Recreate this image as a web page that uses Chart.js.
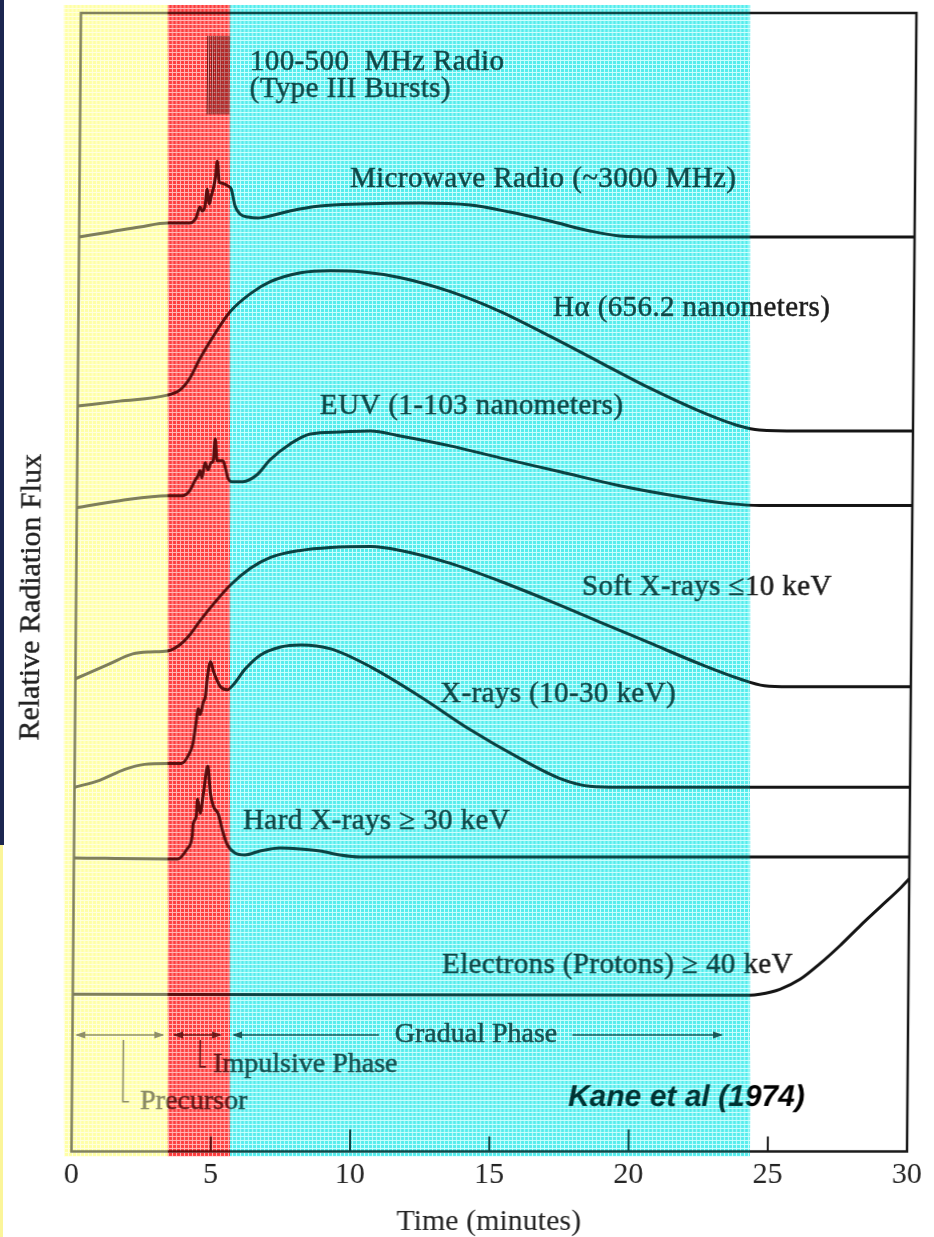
<!DOCTYPE html>
<html>
<head>
<meta charset="utf-8">
<script src="https://cdn.jsdelivr.net/npm/chart.js@4.4.1/dist/chart.umd.min.js"></script>
<style>
  html, body { margin: 0; padding: 0; background: #fff; }
  body { width: 934px; height: 1237px; position: relative; overflow: hidden; }
  #edge-top { position: absolute; left: 0; top: 0; width: 4px; height: 845px; background: #1c2650; }
  #edge-bottom { position: absolute; left: 0; top: 845px; width: 3px; height: 392px; background: #fbf59a; }
  #chart { position: absolute; left: 0; top: 0; }
</style>
</head>
<body>
<div id="edge-top"></div><div id="edge-bottom"></div>
<canvas id="chart" width="934" height="1237"></canvas>
<script>
// Solar flare light curves, stacked: [time in minutes, relative flux + trace offset]
const microwave = [
  [0, 91.9], [1.10, 92.4], [2.18, 92.9], [3.18, 93.3], [3.97, 93.3], [4.19, 93.8], [4.33, 94.9],
  [4.41, 94.5], [4.51, 95.0], [4.59, 96.7], [4.66, 95.2], [4.74, 96.1], [4.80, 96.7], [4.88, 97.9],
  [4.94, 99.5], [5.02, 97.4], [5.12, 97.3], [5.34, 97.0], [5.45, 96.7], [5.59, 95.0], [5.77, 94.2],
  [6.06, 93.9], [6.42, 93.8], [6.85, 94.0], [7.56, 94.5], [8.64, 95.0], [10.08, 95.2], [12.23, 95.3],
  [14.03, 95.1], [15.46, 94.4], [16.90, 93.5], [18.34, 92.5], [19.41, 92.0], [20.85, 91.9], [30, 91.9]
];
const halpha = [
  [0, 74.9], [1.50, 75.4], [3.22, 76.0], [3.66, 76.5], [4.02, 77.7], [4.38, 79.7], [4.91, 82.2],
  [5.45, 84.4], [6.17, 86.2], [6.88, 87.4], [7.97, 88.3], [9.04, 88.5], [10.12, 88.4], [11.56, 87.8],
  [13.35, 86.4], [15.15, 84.4], [16.95, 81.9], [18.74, 79.3], [20.54, 76.7], [22.33, 74.4],
  [23.77, 72.9], [24.48, 72.5], [25.92, 72.4], [30, 72.4]
];
const euv = [
  [0, 64.7], [1.54, 65.4], [3.26, 65.9], [3.80, 65.9], [4.05, 66.4], [4.23, 67.4], [4.34, 67.9],
  [4.41, 68.4], [4.48, 67.7], [4.59, 69.2], [4.70, 68.5], [4.80, 69.2], [4.88, 69.4], [4.95, 71.6],
  [5.02, 69.4], [5.23, 69.4], [5.34, 68.5], [5.41, 67.7], [5.56, 67.3], [5.95, 67.3], [6.46, 68.0],
  [6.92, 69.5], [7.64, 71.1], [8.36, 72.1], [9.44, 72.3], [10.51, 72.4], [11.59, 71.9], [13.39, 70.9],
  [15.18, 69.7], [17.34, 68.3], [19.49, 66.9], [21.65, 65.8], [23.44, 65.1], [24.52, 64.9], [30, 64.9]
];
const softXray = [
  [0, 47.5], [1.22, 49.0], [2.05, 50.0], [2.66, 50.2], [3.30, 50.3], [3.73, 50.9], [4.09, 51.9],
  [4.45, 53.3], [4.99, 55.2], [5.53, 56.9], [6.25, 58.6], [6.97, 59.7], [8.04, 60.4], [9.12, 60.7],
  [10.56, 60.8], [11.63, 60.4], [13.43, 59.1], [15.22, 57.3], [17.02, 55.3], [18.81, 53.2],
  [20.61, 51.1], [22.41, 49.0], [23.84, 47.5], [24.74, 46.8], [25.64, 46.7], [30, 46.7]
];
const xray = [
  [0, 36.6], [0.90, 37.3], [1.80, 38.4], [2.51, 38.9], [3.34, 39.0], [3.84, 39.0], [4.06, 39.7],
  [4.24, 41.0], [4.34, 43.0], [4.42, 44.5], [4.49, 43.9], [4.60, 45.2], [4.67, 45.7], [4.74, 47.7],
  [4.85, 49.2], [4.96, 48.2], [5.06, 47.5], [5.21, 46.7], [5.46, 46.4], [5.67, 46.9], [6.10, 48.5],
  [6.64, 49.9], [7.36, 50.7], [8.08, 50.9], [9.16, 50.5], [10.59, 48.7], [12.39, 45.7], [14.18, 42.4],
  [15.98, 39.5], [17.41, 37.5], [18.49, 36.7], [19.57, 36.6], [30, 36.6]
];
const hardXray = [
  [0, 29.5], [3.38, 29.4], [3.73, 29.4], [4.06, 30.4], [4.24, 31.7], [4.27, 32.9], [4.38, 33.7],
  [4.42, 35.4], [4.52, 34.0], [4.63, 36.0], [4.78, 38.7], [4.88, 36.0], [4.99, 34.7], [5.17, 33.9],
  [5.31, 32.4], [5.49, 30.9], [5.78, 30.0], [6.14, 29.8], [6.68, 30.2], [7.40, 30.5], [8.11, 30.4],
  [8.83, 30.2], [9.55, 29.8], [10.27, 29.6], [30, 29.6]
];
const electrons = [
  [0, 15.8], [24.31, 15.7], [24.67, 15.8], [25.39, 16.3], [26.11, 17.3], [26.83, 18.9],
  [27.54, 20.7], [28.26, 22.7], [28.98, 24.6], [29.70, 26.5], [30, 27.4]
];
// type III radio bursts: times of the individual bursts and the band they span
const burstTimes = [4.56, 4.63, 4.70, 4.77, 4.84, 4.91, 4.98, 5.05, 5.12, 5.19, 5.26, 5.33];
const burstSpan = [104.2, 112.1];

const timeTicks = [0, 5, 10, 15, 20, 25, 30];

// flare phases (minutes)
const phases = [
  { name: 'precursor', from: -0.27, to: 3.46 },
  { name: 'impulsive', from: 3.46, to: 5.69 },
  { name: 'gradual', from: 5.69, to: 24.36 }
];

// trace captions, anchored at their left edge
const captions = [
  { text: '100-500  MHz Radio', at: [6.08, 109.4] },
  { text: '(Type III Bursts)', at: [6.08, 106.7] },
  { text: 'Microwave Radio (~3000 MHz)', at: [9.71, 97.7] },
  { text: 'H\u03b1 (656.2 nanometers)', at: [17.04, 84.7] },
  { text: 'EUV (1-103 nanometers)', at: [8.70, 74.9] },
  { text: 'Soft X-rays \u226410 keV', at: [18.16, 56.7] },
  { text: 'X-rays (10-30 keV)', at: [13.10, 45.9] },
  { text: 'Hard X-rays \u2265 30 keV', at: [6.06, 33.2] },
  { text: 'Electrons (Protons) \u2265 40 keV', at: [13.25, 18.7] }
];

const serif = '"Liberation Serif", "Times New Roman", serif';
const shear = 9.5 / 1144; // the scanned frame leans right towards the top

const traceSets = [microwave, halpha, euv, softXray, xray, hardXray, electrons].map(pts => ({
  data: pts.map(([t, f]) => ({ x: t, y: f })),
  borderColor: '#141414',
  borderWidth: 3,
  pointRadius: 0,
  cubicInterpolationMode: 'monotone',
  borderCapStyle: 'round',
  borderJoinStyle: 'round',
  fill: false
}));

const burstSet = {
  data: burstTimes.flatMap(t => [{ x: t, y: burstSpan[0] }, { x: t, y: burstSpan[1] }, { x: t, y: null }]),
  borderColor: '#333',
  borderWidth: 1,
  pointRadius: 0,
  tension: 0,
  spanGaps: false,
  fill: false
};

const arrowHead = (ctx, x, y, dir) => {
  ctx.beginPath();
  ctx.moveTo(x, y);
  ctx.lineTo(x - dir * 10, y - 3.5);
  ctx.lineTo(x - dir * 10, y + 3.5);
  ctx.closePath();
  ctx.fill();
};

// scanned type: fill plus a hairline stroke so the letters read a little heavier
const inkText = (ctx, text, x, y) => {
  ctx.fillText(text, x, y);
  ctx.strokeText(text, x, y);
};

const framePlugin = {
  id: 'frame',
  beforeDatasetsDraw(chart) {
    const { ctx, chartArea: a, scales: { x } } = chart;
    ctx.save();
    ctx.strokeStyle = '#1a1a1a';
    ctx.lineWidth = 2.5;
    ctx.strokeRect(a.left, a.top, a.right - a.left, a.bottom - a.top);
    ctx.lineWidth = 2;
    timeTicks.forEach(v => {
      if (v <= x.min || v >= x.max) return;
      const p = x.getPixelForValue(v);
      const len = v % 10 === 0 ? 22 : 15;
      ctx.beginPath();
      ctx.moveTo(p, a.bottom);
      ctx.lineTo(p, a.bottom - len);
      ctx.stroke();
    });

    // vertical axis title, a little below the middle of the frame
    ctx.save();
    ctx.translate(a.left - 44, (a.top + a.bottom) / 2 + 15);
    ctx.rotate(-Math.PI / 2);
    ctx.font = '30px ' + serif;
    ctx.fillStyle = '#222';
    ctx.strokeStyle = '#222';
    ctx.lineWidth = 0.4;
    ctx.textAlign = 'center';
    ctx.textBaseline = 'middle';
    inkText(ctx, 'Relative Radiation Flux', 0, 0);
    ctx.restore();
    ctx.restore();
  }
};

const notesPlugin = {
  id: 'notes',
  afterDatasetsDraw(chart) {
    const { ctx, scales: { x, y } } = chart;
    const X = t => x.getPixelForValue(t);
    const Y = v => y.getPixelForValue(v);
    ctx.save();
    ctx.fillStyle = '#1c1c1c';
    ctx.strokeStyle = '#1c1c1c';
    ctx.lineWidth = 0.5;
    ctx.font = '29px ' + serif;
    ctx.letterSpacing = '0.4px';
    ctx.textBaseline = 'middle';
    ctx.textAlign = 'left';
    captions.forEach(c => inkText(ctx, c.text, X(c.at[0]), Y(c.at[1])));

    // phase arrows along the bottom of the plot
    const ay = Y(11.7);
    ctx.strokeStyle = '#333';
    ctx.fillStyle = '#333';
    ctx.lineWidth = 1.6;
    const seg = (t0, t1) => {
      ctx.beginPath();
      ctx.moveTo(X(t0), ay);
      ctx.lineTo(X(t1), ay);
      ctx.stroke();
    };
    seg(0.15, 3.25); arrowHead(ctx, X(0.1), ay, -1); arrowHead(ctx, X(3.3), ay, 1);
    seg(3.65, 5.3); arrowHead(ctx, X(3.61), ay, -1); arrowHead(ctx, X(5.37), ay, 1);
    seg(5.8, 11.0); seg(17.95, 23.3); arrowHead(ctx, X(5.73), ay, -1); arrowHead(ctx, X(23.36), ay, 1);

    // bracket pointers to the two short phases
    const bracket = (t, v0, v1, t1) => {
      ctx.beginPath();
      ctx.moveTo(X(t), Y(v0));
      ctx.lineTo(X(t), Y(v1));
      ctx.lineTo(X(t1), Y(v1));
      ctx.stroke();
    };
    bracket(4.59, 11.2, 8.5, 4.8);
    bracket(1.83, 11.2, 5.0, 2.05);

    ctx.fillStyle = '#2a2a2a';
    ctx.strokeStyle = '#2a2a2a';
    ctx.lineWidth = 0.5;
    ctx.letterSpacing = '0px';
    ctx.font = '28px ' + serif;
    ctx.textAlign = 'center';
    inkText(ctx, 'Gradual Phase', X(14.49), ay);
    ctx.textAlign = 'left';
    inkText(ctx, 'Impulsive Phase', X(5.06), Y(8.7));
    inkText(ctx, 'Precursor', X(2.45), Y(5.0));
    ctx.restore();
  }
};

const tintPattern = (ctx, cell) => {
  const c = document.createElement('canvas');
  c.width = 4; c.height = 4;
  const g = c.getContext('2d');
  g.fillStyle = '#fff';
  g.fillRect(0, 0, 4, 4);
  g.fillStyle = cell;
  g.fillRect(1, 1, 3, 3);
  return ctx.createPattern(c, 'repeat');
};

const tints = {
  precursor: { mult: 'rgb(255,255,150)', over: 'rgba(255,255,185,0.45)' },
  impulsive: { mult: 'rgb(254,80,80)', over: 'rgba(255,20,20,0.3)' },
  gradual: { mult: 'rgb(105,232,232)', over: 'rgba(0,255,255,0.2)' }
};

// phase shading and the citation sit square on the page, so undo the frame's lean here
const phasePlugin = {
  id: 'phaseShading',
  afterDraw(chart) {
    const { ctx, chartArea: a, scales: { x, y } } = chart;
    ctx.save();
    ctx.transform(1, 0, shear, 1, -shear * a.bottom, 0);

    ctx.fillStyle = '#000';
    ctx.font = 'italic bold 30px "Liberation Sans", Arial, sans-serif';
    ctx.textBaseline = 'middle';
    ctx.fillText('Kane et al (1974)', x.getPixelForValue(17.83), y.getPixelForValue(5.4));

    const top = a.top - 8, bottom = a.bottom + 5;
    phases.forEach(p => {
      const l = x.getPixelForValue(p.from), r = x.getPixelForValue(p.to);
      const tint = tints[p.name];
      ctx.globalCompositeOperation = 'multiply';
      ctx.fillStyle = tintPattern(ctx, tint.mult);
      ctx.fillRect(l, top, r - l, bottom - top);
      ctx.globalCompositeOperation = 'source-over';
      ctx.fillStyle = tint.over;
      ctx.fillRect(l, top, r - l, bottom - top);
    });
    ctx.restore();
  }
};

Chart.defaults.font.family = serif;
Chart.defaults.color = '#222';

const canvas = document.getElementById('chart');
const chart = new Chart(canvas, {
  type: 'line',
  data: { datasets: [...traceSets, burstSet] },
  options: {
    responsive: false,
    animation: false,
    events: [],
    layout: { padding: { top: 13, right: 27, bottom: 0, left: 71.5 } },
    plugins: { legend: { display: false }, tooltip: { enabled: false } },
    scales: {
      x: {
        type: 'linear',
        min: 0,
        max: 30,
        afterBuildTicks: s => { s.ticks = timeTicks.map(v => ({ value: v })); },
        ticks: { font: { size: 30, lineHeight: 1.2 }, color: '#222', padding: 5.5, maxRotation: 0, autoSkip: false },
        grid: { display: false, drawTicks: false },
        border: { display: false },
        title: { display: true, text: 'Time (minutes)', font: { size: 30, lineHeight: 1 }, color: '#222', padding: { top: 8.5, bottom: 0 } }
      },
      y: {
        type: 'linear',
        display: false,
        min: 0,
        max: 114.4
      }
    }
  },
  plugins: [framePlugin, notesPlugin, phasePlugin]
});

canvas.style.transformOrigin = '0 ' + chart.chartArea.bottom + 'px';
canvas.style.transform = 'skewX(' + (-Math.atan(shear) * 180 / Math.PI) + 'deg)';
</script>
</body>
</html>
